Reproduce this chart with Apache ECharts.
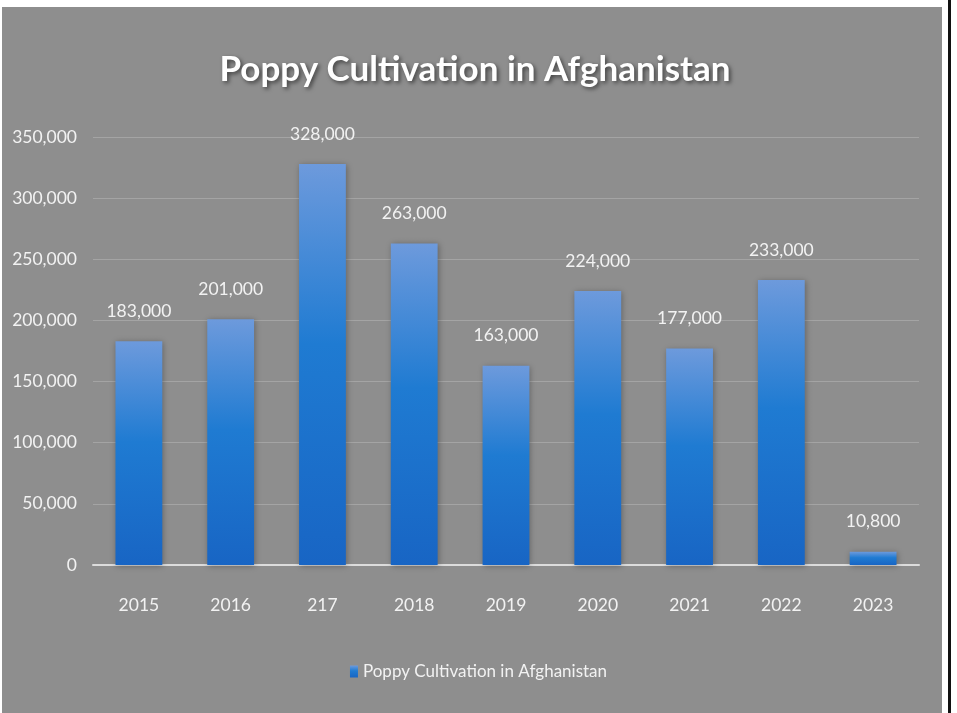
<!DOCTYPE html>
<html>
<head>
<meta charset="utf-8">
<script src="https://cdn.jsdelivr.net/npm/echarts@6/dist/echarts.min.js"></script>
<style>
html,body{margin:0;padding:0;background:#ffffff;}
#c{width:957px;height:713px;}
</style>
</head>
<body>
<div id="c"></div>
<script>
const categories = ['2015','2016','217','2018','2019','2020','2021','2022','2023'];
const values = [183000, 201000, 328000, 263000, 163000, 224000, 177000, 233000, 10800];
const seriesName = 'Poppy Cultivation in Afghanistan';
const titleText = 'Poppy Cultivation in Afghanistan';

const FONT = "Lato, 'Open Sans', sans-serif";
const chart = echarts.init(document.getElementById('c'));
const fmt = v => v.toLocaleString('en-US');

chart.setOption({
  backgroundColor: '#ffffff',
  animation: false,
  graphic: [
    { type: 'rect', z: -10, shape: { x: 2, y: 7, width: 940, height: 706 }, style: { fill: '#8e8e8e' } },
    { type: 'rect', z: -10, shape: { x: 948, y: 0, width: 3, height: 713 }, style: { fill: '#111111' } }
  ],
  title: {
    text: titleText,
    left: 470, top: 47, textAlign: 'center',
    textStyle: {
      fontFamily: FONT, fontWeight: 'bold', fontSize: 35, color: '#ffffff',
      textShadowColor: 'rgba(0,0,0,0.55)', textShadowBlur: 4, textShadowOffsetX: 2, textShadowOffsetY: 2
    }
  },
  legend: {
    bottom: 28, left: 'center',
    itemWidth: 8, itemHeight: 12, itemGap: 6,
    icon: 'rect',
    textStyle: { fontFamily: FONT, fontSize: 17, color: '#f2f2f2' },
    data: [seriesName]
  },
  grid: { left: 93, right: 38, top: 137, bottom: 148 },
  xAxis: {
    type: 'category', data: categories,
    axisLine: { lineStyle: { color: '#dcdcdc', width: 2 } },
    axisTick: { show: false },
    axisLabel: { fontFamily: FONT, fontSize: 17.5, color: '#f2f2f2', margin: 31 }
  },
  yAxis: {
    type: 'value', min: 0, max: 350000, interval: 50000,
    axisLine: { show: false }, axisTick: { show: false },
    axisLabel: { fontFamily: FONT, fontSize: 17.5, color: '#f2f2f2', margin: 16, formatter: v => fmt(v) },
    splitLine: { lineStyle: { color: '#a4a4a4', width: 1 } }
  },
  series: [{
    name: seriesName, type: 'bar', data: values, barWidth: '51%',
    itemStyle: {
      color: new echarts.graphic.LinearGradient(0, 0, 0, 1, [
        { offset: 0, color: '#6d9adc' },
        { offset: 0.45, color: '#1f7bd2' },
        { offset: 1, color: '#1865c4' }
      ]),
      shadowColor: 'rgba(0,0,0,0.3)', shadowBlur: 6, shadowOffsetX: 1, shadowOffsetY: 1
    },
    label: {
      show: true, position: 'top', distance: 21,
      fontFamily: FONT, fontSize: 17.5, color: '#f2f2f2',
      formatter: p => fmt(p.value)
    }
  }]
});
</script>
</body>
</html>
